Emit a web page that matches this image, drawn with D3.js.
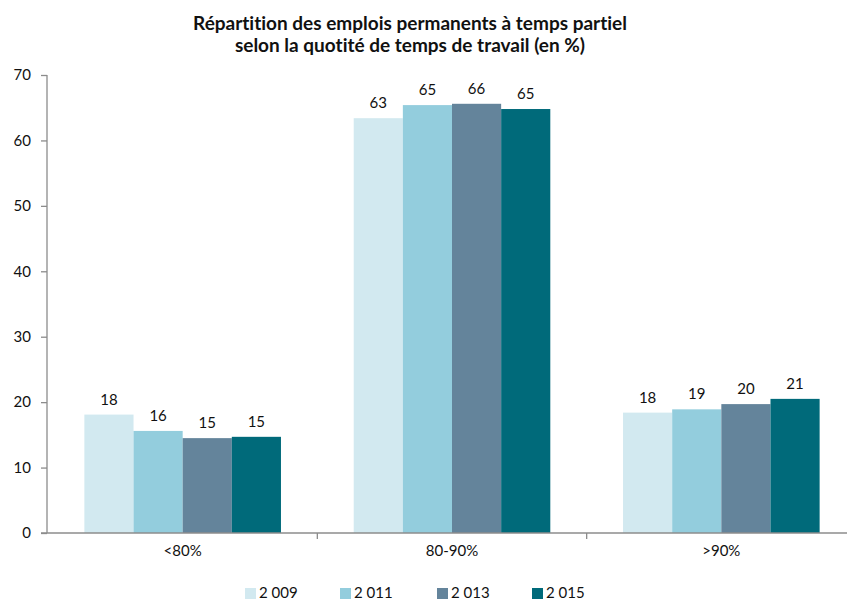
<!DOCTYPE html>
<html>
<head>
<meta charset="utf-8">
<script src="https://cdn.jsdelivr.net/npm/d3@7"></script>
<style>
  body { margin: 0; background: #fff; }
  svg { font-family: Lato, "Open Sans", sans-serif; font-variant-ligatures: none; font-feature-settings: "liga" 0; }
</style>
</head>
<body>
<div id="chart"></div>
<script>
const categories = ["<80%", "80-90%", ">90%"];
const years = ["2 009", "2 011", "2 013", "2 015"];
const values2009 = [18.1, 63.4, 18.4];
const values2011 = [15.6, 65.4, 18.9];
const values2013 = [14.5, 65.6, 19.7];
const values2015 = [14.7, 64.8, 20.5];
const labels2009 = [18, 63, 18];
const labels2011 = [16, 65, 19];
const labels2013 = [15, 66, 20];
const labels2015 = [15, 65, 21];
const yTicks = [0, 10, 20, 30, 40, 50, 60, 70];
const colors = ["#d2e9f0", "#93cddd", "#64849b", "#006a7a"];

const series = [values2009, values2011, values2013, values2015];
const seriesLabels = [labels2009, labels2011, labels2013, labels2015];

// flat table for the bars
const rows = [];
categories.forEach((c, i) => {
  years.forEach((y, j) => {
    rows.push({cat: c, year: y, value: series[j][i], label: seriesLabels[j][i]});
  });
});

const width = 847, height = 600;
const margin = {top: 75, left: 47, bottom: 67};
const plotRight = 856;

const svg = d3.select("#chart").append("svg")
  .attr("width", width)
  .attr("height", height);

/** title */
svg.append("text")
  .attr("x", 410)
  .attr("y", 30)
  .attr("text-anchor", "middle")
  .attr("font-size", 19)
  .attr("font-weight", "bold")
  .attr("fill", "#111")
  .text("Répartition des emplois permanents à temps partiel")
  .append("tspan")
  .attr("x", 410)
  .attr("dy", 22)
  .text("selon la quotité de temps de travail (en %)");

const x0 = d3.scaleBand()
  .domain(categories)
  .range([margin.left + 1, plotRight]);

const x1 = d3.scaleBand()
  .domain(years)
  .range([0, x0.bandwidth()])
  .paddingOuter(0.74);

const y = d3.scaleLinear()
  .domain([0, 70])
  .range([height - margin.bottom, margin.top]);

// bars
svg.append("g")
  .selectAll("rect")
  .data(rows)
  .enter()
  .append("rect")
  .attr("x", d => x0(d.cat) + x1(d.year))
  .attr("y", d => y(d.value))
  .attr("width", x1.bandwidth())
  .attr("height", d => y(0) - y(d.value))
  .attr("fill", d => colors[years.indexOf(d.year)]);

// data labels
svg.append("g")
  .selectAll("text")
  .data(rows)
  .enter()
  .append("text")
  .attr("x", d => x0(d.cat) + x1(d.year) + x1.bandwidth() / 2)
  .attr("y", d => y(d.value) - 10)
  .attr("text-anchor", "middle")
  .attr("font-size", 15)
  .attr("fill", "#111")
  .text(d => d.label);

// y axis
const yAxis = svg.append("g")
  .attr("transform", "translate(" + margin.left + ",0)")
  .call(d3.axisLeft(y).tickValues(yTicks).tickSize(6).tickPadding(10));
yAxis.selectAll("line, path").attr("stroke", "#8c8c8c").attr("stroke-width", 1.3);
yAxis.select("path").attr("d", "M0," + y(70) + "V" + y(0));
yAxis.selectAll("text").attr("font-size", 15).attr("fill", "#111").attr("font-family", "Lato, sans-serif");

// x axis
const xAxis = svg.append("g")
  .attr("transform", "translate(0," + y(0) + ")");
xAxis.append("line")
  .attr("x1", margin.left - 6)
  .attr("x2", plotRight)
  .attr("stroke", "#8c8c8c")
  .attr("stroke-width", 1.3);
xAxis.selectAll("line.tick")
  .data(categories.slice(1))
  .enter()
  .append("line")
  .attr("class", "tick")
  .attr("x1", d => x0(d))
  .attr("x2", d => x0(d))
  .attr("y1", 0)
  .attr("y2", 6)
  .attr("stroke", "#8c8c8c")
  .attr("stroke-width", 1.3);
xAxis.selectAll("text")
  .data(categories)
  .enter()
  .append("text")
  .attr("x", d => x0(d) + x0.bandwidth() / 2)
  .attr("y", 23)
  .attr("text-anchor", "middle")
  .attr("font-size", 15)
  .attr("fill", "#111")
  .text(d => d);

// legend
const legendX = [245, 340, 437, 532];
const legend = svg.append("g")
  .selectAll("g")
  .data(years)
  .enter()
  .append("g")
  .attr("transform", (d, i) => "translate(" + legendX[i] + ",588)");
legend.append("rect")
  .attr("width", 11)
  .attr("height", 11)
  .attr("fill", (d, i) => colors[i]);
legend.append("text")
  .attr("x", 14)
  .attr("y", 10)
  .attr("font-size", 15)
  .attr("fill", "#111")
  .text(d => d);
</script>
</body>
</html>
